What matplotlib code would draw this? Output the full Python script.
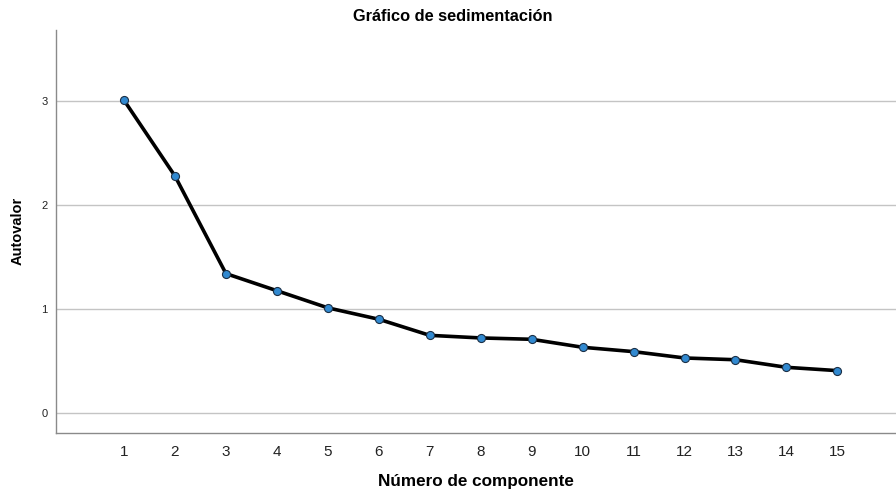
import matplotlib
matplotlib.use("Agg")
import matplotlib.pyplot as plt

plt.rcParams['font.family'] = ['Liberation Sans', 'DejaVu Sans']

components = list(range(1, 16))
eigenvalues = [3.01, 2.28, 1.34, 1.175, 1.01, 0.90, 0.745, 0.72, 0.707, 0.63, 0.588, 0.527, 0.51, 0.437, 0.405]
y_ticks = [0, 1, 2, 3]

fig = plt.figure(figsize=(8.96, 4.91), dpi=100)
ax = fig.add_axes([56/896, 1 - 432.7/491, 1 - 56/896, (432.7 - 30)/491])

ax.plot(components, eigenvalues, color='black', lw=2.6, zorder=3,
        marker='o', markersize=5.8, markerfacecolor='#3189d0',
        markeredgecolor='#1b2f45', markeredgewidth=0.8)

ax.set_xlim(-0.335, 16.15)
ax.set_ylim(-0.193, 3.687)
ax.set_xticks(components)
ax.set_yticks(y_ticks)
ax.grid(axis='y', color='#c4c4c4', lw=1.0)
ax.set_axisbelow(True)
for s in ['top', 'right']:
    ax.spines[s].set_visible(False)
for s in ['left', 'bottom']:
    ax.spines[s].set_color('#8a8a8a')
    ax.spines[s].set_linewidth(1.0)
ax.tick_params(axis='x', length=0, labelsize=11, colors='#222222', pad=9)
ax.tick_params(axis='y', length=0, labelsize=8, colors='#222222', pad=6)

ax.set_xlabel('Número de componente', fontsize=12.3, fontweight='bold', labelpad=11)
ax.set_ylabel('Autovalor', fontsize=10.5, fontweight='bold', labelpad=12)
fig.suptitle('Gráfico de sedimentación', x=453/896, y=1 - 16.5/491, va='center',
             fontsize=11.8, fontweight='bold')

fig.savefig('out.png', dpi=100)
